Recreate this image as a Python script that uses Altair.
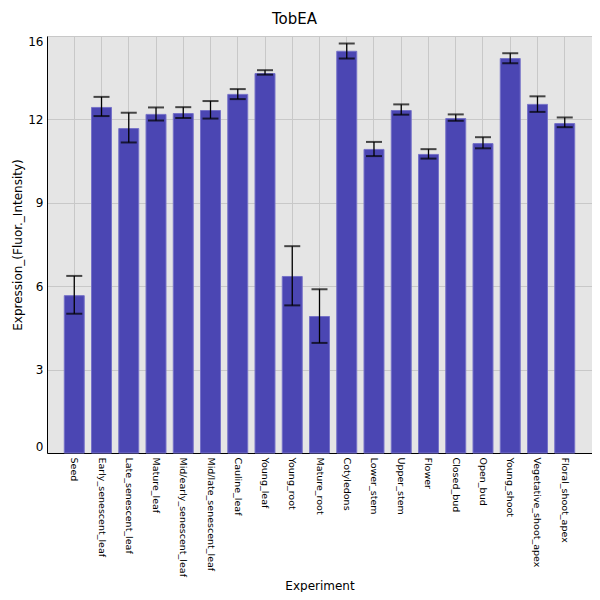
import json
import altair as alt
import pandas as pd

experiments = ["Seed", "Early_senescent_leaf", "Late_senescent_leaf", "Mature_leaf",
               "Mid/early_senescent_leaf", "Mid/late_senescent_leaf", "Cauline_leaf",
               "Young_leaf", "Young_root", "Mature_root", "Cotyledons", "Lower_stem",
               "Upper_stem", "Flower", "Closed_bud", "Open_bud", "Young_shoot",
               "Vegetative_shoot_apex", "Floral_shoot_apex"]
means = [5.66, 12.43, 11.67, 12.18, 12.21, 12.32, 12.90, 13.65, 6.35, 4.91, 14.45,
         10.92, 12.32, 10.74, 12.03, 11.13, 14.19, 12.54, 11.85]
err_low = [5.01, 12.12, 11.17, 11.96, 12.05, 12.03, 12.73, 13.61, 5.31, 3.96, 14.19,
           10.68, 12.17, 10.59, 11.95, 10.96, 14.02, 12.27, 11.72]
err_high = [6.37, 12.81, 12.24, 12.43, 12.44, 12.66, 13.09, 13.77, 7.44, 5.89, 14.73,
            11.19, 12.54, 10.93, 12.18, 11.36, 14.38, 12.83, 12.07]
y_tick_values = [0, 3, 6, 9, 12, 15]
y_tick_labels = ["0", "3", "6", "9", "12", "16"]

df = pd.DataFrame({"Experiment": experiments, "mean": means, "lo": err_low, "hi": err_high})

FONT = "DejaVu Sans"
YTITLE = "Expression_(Fluor._Intensity)"

label_expr = "{}[indexof({}, datum.value)]".format(json.dumps(y_tick_labels), json.dumps(y_tick_values))

xenc = alt.X(
    "Experiment:N", sort=experiments, title="Experiment",
    scale=alt.Scale(paddingInner=0.267, paddingOuter=0.634),
    axis=alt.Axis(labelAngle=90, labelFontSize=9.5, labelFont=FONT, labelColor="black",
                  ticks=False, labelPadding=4, grid=True, bandPosition=0.5,
                  gridColor="#c8c8c8", gridWidth=1, domainColor="black",
                  titleFont=FONT, titleFontSize=12, titleFontWeight="normal",
                  titleColor="black", titlePadding=4),
)
yscale = alt.Scale(domain=[0, 15], nice=False, zero=True)
yaxis = alt.Axis(values=y_tick_values, labelExpr=label_expr, labelFlush=True,
                 ticks=False, labelPadding=4, labelFontSize=12, labelFont=FONT,
                 labelColor="black", grid=True, gridColor="#c8c8c8", gridWidth=1,
                 domainColor="black", titleFont=FONT, titleFontSize=12,
                 titleFontWeight="normal", titleColor="black", titlePadding=3)

bars = alt.Chart(df).mark_bar(color="#4b46b3", stroke="#7672c8", strokeWidth=1).encode(
    x=xenc,
    y=alt.Y("mean:Q", scale=yscale, axis=yaxis, title=YTITLE),
)
rules = alt.Chart(df).mark_rule(color="black", strokeWidth=1.3).encode(
    x=xenc,
    y=alt.Y("lo:Q", scale=yscale, title=YTITLE),
    y2="hi:Q",
)
cap_hi = alt.Chart(df).mark_tick(color="black", size=16, thickness=2).encode(
    x=xenc, y=alt.Y("hi:Q", scale=yscale, title=YTITLE))
cap_lo = alt.Chart(df).mark_tick(color="black", size=16, thickness=2).encode(
    x=xenc, y=alt.Y("lo:Q", scale=yscale, title=YTITLE))

chart = alt.layer(bars, rules, cap_hi, cap_lo).properties(
    width=545, height=417,
    autosize=alt.AutoSizeParams(type="none"),
    padding={"left": 39, "top": 28, "right": 0, "bottom": 139},
    title=alt.TitleParams("TobEA", font=FONT, fontSize=15, fontWeight="normal",
                          color="black", anchor="middle", dx=-25, offset=8),
    background="white",
).configure_view(fill="#e5e5e5", stroke=None)

chart.save("out.html", embed_options={"renderer": "svg", "actions": False})
